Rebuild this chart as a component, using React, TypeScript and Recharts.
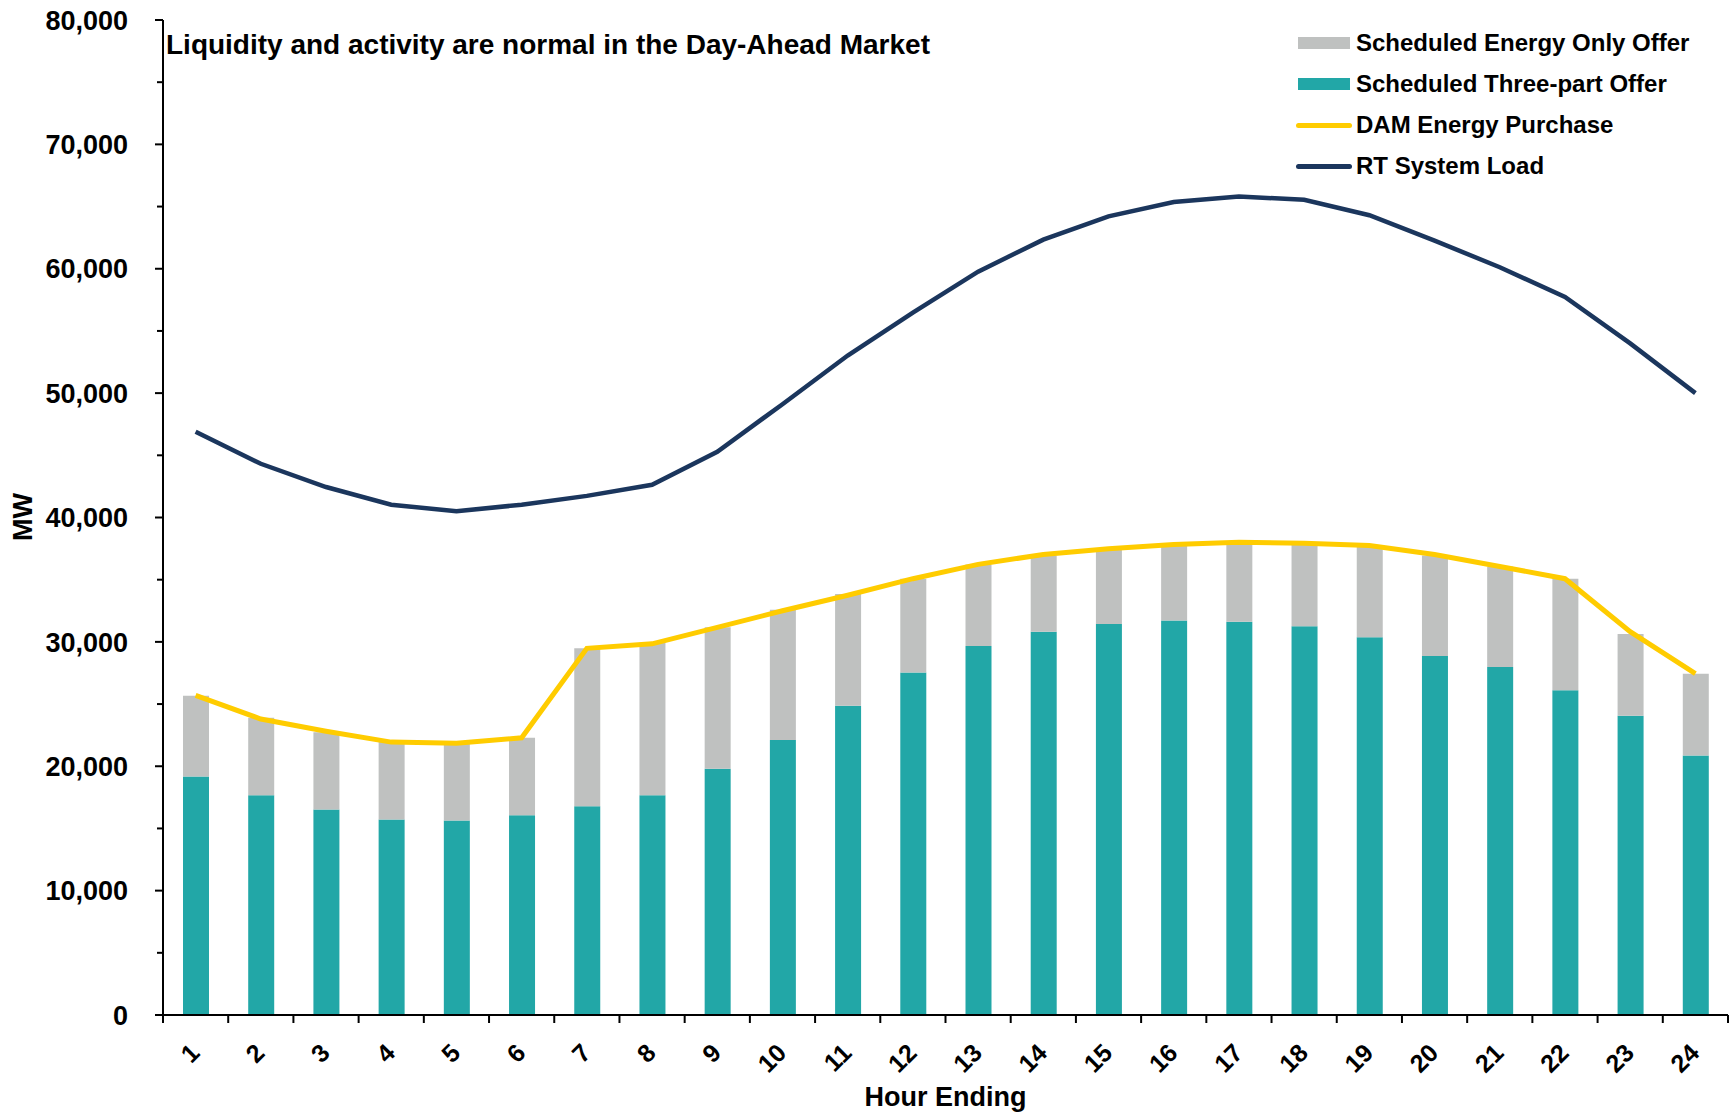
import { ComposedChart, Bar, Line, XAxis, YAxis, CartesianGrid } from 'recharts';

const hours = ['1', '2', '3', '4', '5', '6', '7', '8', '9', '10', '11', '12', '13', '14', '15', '16', '17', '18', '19', '20', '21', '22', '23', '24'];
const threePartOffer = [19180, 17670, 16520, 15720, 15630, 16070, 16790, 17670, 19800, 22110, 24870, 27530, 29660, 30820, 31440, 31710, 31620, 31260, 30370, 28860, 27980, 26110, 24070, 20870];
const energyOnlyOffer = [6490, 6220, 6220, 6220, 6220, 6220, 12690, 12260, 11370, 10480, 8970, 7550, 6570, 6120, 6040, 6120, 6390, 6660, 7370, 8080, 8080, 8970, 6570, 6570];
const damPurchase = [25700, 23800, 22820, 21940, 21850, 22290, 29480, 29840, 31170, 32500, 33750, 35080, 36230, 37030, 37480, 37830, 38010, 37920, 37740, 37030, 36060, 35080, 30820, 27440];
const rtLoad = [46890, 44320, 42450, 41030, 40500, 41030, 41740, 42630, 45290, 49110, 53020, 56480, 59770, 62340, 64210, 65360, 65810, 65540, 64300, 62260, 60120, 57730, 54000, 50000];
const yTicks = [0, 5000, 10000, 15000, 20000, 25000, 30000, 35000, 40000, 45000, 50000, 55000, 60000, 65000, 70000, 75000, 80000];
const gridValues = [0, 10000, 20000, 30000, 40000, 50000, 60000, 70000, 80000];

const legendItems = [
  { name: 'Scheduled Energy Only Offer', color: '#BFC1C0', kind: 'rect' },
  { name: 'Scheduled Three-part Offer', color: '#22A7A7', kind: 'rect' },
  { name: 'DAM Energy Purchase', color: '#FFCC00', kind: 'line' },
  { name: 'RT System Load', color: '#1B365D', kind: 'line' },
];

const W = 1734;
const H = 1112;
const LEFT = 163;
const RIGHT = 6;
const TOP = 20;
const XH = 97;
const BAND = (W - LEFT - RIGHT) / hours.length;
const FONT = '"Liberation Sans", Arial, sans-serif';

const data = hours.map((h, i) => ({
  hour: h,
  threePart: threePartOffer[i],
  energyOnly: energyOnlyOffer[i],
  dam: damPurchase[i],
  rt: rtLoad[i],
}));

const YTick = (props: any) => {
  const { x, y, payload } = props;
  const major = payload.value % 10000 === 0;
  return (
    <g>
      <line x1={x} x2={x - (major ? 8 : 6)} y1={y} y2={y} stroke="#000" strokeWidth={2} />
      {major && (
        <text x={x - 35} y={y} dy="0.36em" textAnchor="end" fontFamily={FONT} fontWeight="bold" fontSize={27} fill="#000">
          {payload.value.toLocaleString('en-US')}
        </text>
      )}
    </g>
  );
};

const XTick = (props: any) => {
  const { x, y, payload, index } = props;
  const ex = x - 1;
  const ey = y + 33;
  return (
    <g>
      <line x1={x - BAND / 2} x2={x - BAND / 2} y1={y} y2={y + 8} stroke="#000" strokeWidth={2} />
      {index === hours.length - 1 && <line x1={x + BAND / 2} x2={x + BAND / 2} y1={y} y2={y + 8} stroke="#000" strokeWidth={2} />}
      <text x={ex} y={ey} dy="0.36em" textAnchor="end" transform={`rotate(-45 ${ex} ${ey})`} fontFamily={FONT} fontWeight="bold" fontSize={25} fill="#000">
        {payload.value}
      </text>
    </g>
  );
};

export default function App() {
  return (
    <div style={{ position: 'absolute', left: 0, top: 0, width: W, height: H, background: '#fff', fontFamily: FONT }}>
      <ComposedChart width={W} height={H} data={data} margin={{ top: TOP, right: RIGHT, bottom: 0, left: 0 }} barSize={26}>
        <CartesianGrid horizontal vertical={false} horizontalValues={gridValues} stroke="#000" strokeWidth={2} />
        <XAxis
          dataKey="hour"
          height={XH}
          interval={0}
          tickSize={0}
          tickMargin={0}
          tick={<XTick />}
          axisLine={{ stroke: '#000', strokeWidth: 2 }}
          tickLine={false}
        />
        <YAxis
          yAxisId="l"
          width={LEFT}
          domain={[0, 80000]}
          ticks={yTicks}
          interval={0}
          tickSize={0}
          tickMargin={0}
          tick={<YTick />}
          tickLine={false}
          axisLine={{ stroke: '#000', strokeWidth: 2 }}
        />
        <YAxis yAxisId="r" orientation="right" width={0} domain={[0, 80000]} tick={false} tickLine={false} axisLine={{ stroke: '#000', strokeWidth: 2 }} />
        <Bar yAxisId="l" dataKey="threePart" stackId="a" fill="#22A7A7" isAnimationActive={false} />
        <Bar yAxisId="l" dataKey="energyOnly" stackId="a" fill="#BFC1C0" isAnimationActive={false} />
        <Line yAxisId="l" type="linear" dataKey="dam" stroke="#FFCC00" strokeWidth={5} dot={false} isAnimationActive={false} />
        <Line yAxisId="l" type="linear" dataKey="rt" stroke="#1B365D" strokeWidth={4.5} dot={false} isAnimationActive={false} />
      </ComposedChart>
      <svg width={W} height={H} style={{ position: 'absolute', left: 0, top: 0, pointerEvents: 'none' }}>
        <text x={166} y={44} dy="0.36em" fontFamily={FONT} fontWeight="bold" fontSize={28} fill="#000">
          Liquidity and activity are normal in the Day-Ahead Market
        </text>
        <text x={(LEFT + W - RIGHT) / 2} y={1106} textAnchor="middle" fontFamily={FONT} fontWeight="bold" fontSize={27} fill="#000">
          Hour Ending
        </text>
        <text x={22} y={517} dy="0.36em" textAnchor="middle" transform="rotate(-90 22 517)" fontFamily={FONT} fontWeight="bold" fontSize={27} fill="#000">
          MW
        </text>
      </svg>
      {legendItems.map((item, i) => (
        <div key={item.name} style={{ position: 'absolute', left: 1296, top: 28 + i * 41, height: 30, display: 'flex', alignItems: 'center', whiteSpace: 'nowrap' }}>
          {item.kind === 'rect' ? (
            <div style={{ width: 52, height: 12, background: item.color, marginLeft: 2, marginRight: 6 }} />
          ) : (
            <div style={{ width: 56, height: 5, borderRadius: 3, background: item.color, marginRight: 4 }} />
          )}
          <span style={{ fontSize: 24, fontWeight: 'bold', color: '#000' }}>{item.name}</span>
        </div>
      ))}
    </div>
  );
}
